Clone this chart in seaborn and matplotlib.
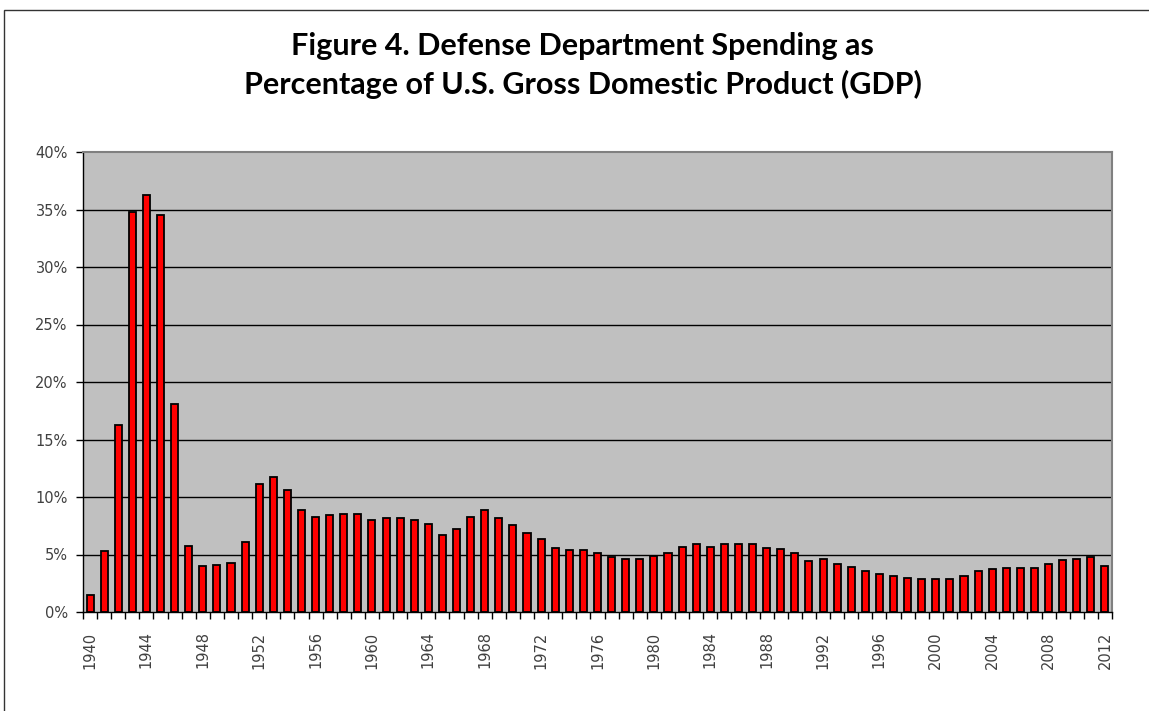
import matplotlib
matplotlib.use("Agg")
import matplotlib.pyplot as plt
import seaborn as sbn
from matplotlib.patches import Rectangle
from matplotlib.ticker import FixedLocator

years = list(range(1940, 2013))
pct_gdp = [1.5, 5.3, 16.3, 34.8, 36.3, 34.5, 18.1, 5.7, 4.0, 4.1,
           4.3, 6.1, 11.1, 11.7, 10.6, 8.9, 8.3, 8.4, 8.5, 8.5,
           8.0, 8.2, 8.2, 8.0, 7.65, 6.7, 7.2, 8.25, 8.85, 8.2,
           7.6, 6.9, 6.35, 5.6, 5.35, 5.35, 5.15, 4.8, 4.6, 4.6,
           4.9, 5.15, 5.65, 5.95, 5.65, 5.9, 5.95, 5.9, 5.6, 5.5,
           5.15, 4.4, 4.6, 4.2, 3.9, 3.55, 3.3, 3.15, 3.0, 2.9,
           2.9, 2.85, 3.15, 3.55, 3.7, 3.85, 3.85, 3.85, 4.15, 4.55,
           4.6, 4.8, 4.0]
year_labels = [str(y) for y in years]
y_ticks = [0, 5, 10, 15, 20, 25, 30, 35, 40]

sbn.set_theme(style="white")
plt.rcParams['font.family'] = ['DejaVu Sans']

fig = plt.figure(figsize=(11.49, 7.11), dpi=100)
ax = fig.add_axes([83/1149, 1-612/711, 1029/1149, 460/711])
ax.set_facecolor("#c0c0c0")

sbn.barplot(x=year_labels, y=pct_gdp, color="red", edgecolor="black",
            linewidth=1.3, width=0.5, saturation=1, ax=ax)

ax.set_xlim(-0.5, len(years) - 0.5)
ax.set_ylim(0, 40)
ax.set_yticks(y_ticks)
ax.set_yticklabels([f"{t}%" for t in y_ticks], fontsize=10.5, color="#404040")
for t in y_ticks[1:-1]:
    ax.axhline(t, color="black", lw=1, zorder=0.5)

ax.set_xticks(range(0, len(years), 4))
ax.set_xticklabels(year_labels[::4], rotation=90, fontsize=10.5, color="#404040")
ax.xaxis.set_minor_locator(FixedLocator([i - 0.5 for i in range(len(years) + 1)]))
ax.tick_params(axis="x", which="major", length=0, pad=14)
ax.tick_params(axis="x", which="minor", length=5, width=1, color="black", direction="out", bottom=True)
ax.tick_params(axis="y", length=5, width=1, color="black", direction="out", left=True, pad=6)
ax.set_xlabel("")
ax.set_ylabel("")

for side in ["left", "bottom"]:
    ax.spines[side].set_color("black")
    ax.spines[side].set_linewidth(1)
for side in ["right", "top"]:
    ax.spines[side].set_color("#808080")
    ax.spines[side].set_linewidth(1.5)

fig.text(0.507, 1 - 46/711, "Figure 4. Defense Department Spending as",
         ha="center", va="center", fontsize=22, fontweight="bold",
         family=["Lato", "DejaVu Sans"], color="black")
fig.text(0.507, 1 - 84/711, "Percentage of U.S. Gross Domestic Product (GDP)",
         ha="center", va="center", fontsize=22, fontweight="bold",
         family=["Lato", "DejaVu Sans"], color="black")

fig.patches.append(Rectangle((4/1149, -0.1), 1.2, 1.1 - 10/711, fill=False,
                             edgecolor="#333333", lw=1, transform=fig.transFigure))

fig.savefig("out.png", dpi=100, facecolor="white")
